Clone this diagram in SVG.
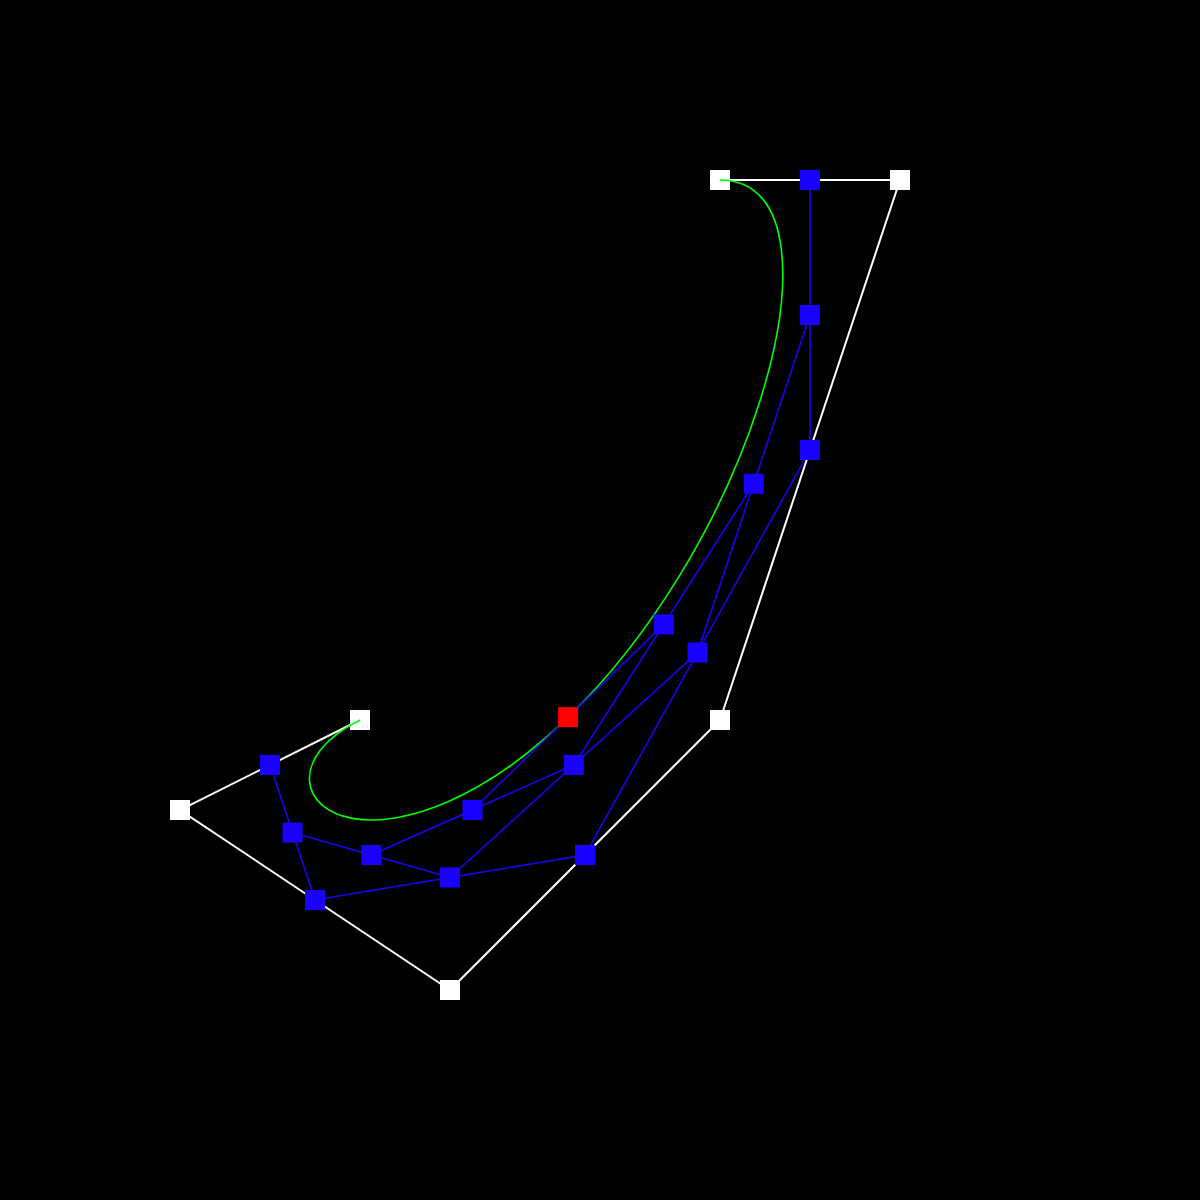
<svg xmlns="http://www.w3.org/2000/svg" width="1200" height="1200" viewBox="0 0 1200 1200">
<style>
.ctl{fill:none;stroke:#ffffff;stroke-width:2}
.lvl{fill:none;stroke:#1a00ff;stroke-width:1.5}
.crv{fill:none;stroke:#00ff00;stroke-width:1.6}
.wp{fill:#ffffff}
.bp{fill:#1a00ff}
.rp{fill:#ff0000}
</style>
<defs>
<rect id="sq" x="-10" y="-10" width="20" height="20"/>
</defs>
<rect x="0" y="0" width="1200" height="1200" fill="#000000"/>
<g id="connectors">
<polyline id="control-polygon" class="ctl" points="360,720 180,810 450,990 720,720 900,180 720,180"/>
</g>
<g id="control-points" class="wp">
<g id="P0"><use href="#sq" x="360" y="720"/></g>
<g id="P1"><use href="#sq" x="180" y="810"/></g>
<g id="P2"><use href="#sq" x="450" y="990"/></g>
<g id="P3"><use href="#sq" x="720" y="720"/></g>
<g id="P4"><use href="#sq" x="900" y="180"/></g>
<g id="P5"><use href="#sq" x="720" y="180"/></g>
</g>
<g id="curve">
<path class="crv" d="M360,720 C322.5,738.75 308.3,761.9 309.45,780.64 C310.59,799.39 327.1,813.74 352.44,818.35 C377.78,822.96 411.98,817.85 449.6,801.07 C487.22,784.29 528.28,755.86 568.13,717.19 C607.97,678.52 646.62,629.61 679.84,575.19 C713.06,520.77 740.89,460.83 759.2,403.33 C777.51,345.83 786.33,290.79 781.32,249.33 C776.31,207.87 757.5,180 720,180"/>
</g>
<g id="construction-lines">
<polyline class="lvl" points="270,765 315,900 585,855 810,450 810,180"/>
<polyline class="lvl" points="292.5,832.5 450,877.5 697.5,652.5 810,315"/>
<polyline class="lvl" points="371.25,855 573.75,765 753.75,483.75"/>
<polyline class="lvl" points="472.5,810 663.75,624.375"/>
</g>
<g id="construction-points" class="bp">
<g id="Q0"><use href="#sq" x="270" y="765"/></g>
<g id="Q1"><use href="#sq" x="315" y="900"/></g>
<g id="Q2"><use href="#sq" x="585" y="855"/></g>
<g id="Q3"><use href="#sq" x="810" y="450"/></g>
<g id="Q4"><use href="#sq" x="810" y="180"/></g>
<g id="R0"><use href="#sq" x="292.5" y="832.5"/></g>
<g id="R1"><use href="#sq" x="450" y="877.5"/></g>
<g id="R2"><use href="#sq" x="697.5" y="652.5"/></g>
<g id="R3"><use href="#sq" x="810" y="315"/></g>
<g id="S0"><use href="#sq" x="371.25" y="855"/></g>
<g id="S1"><use href="#sq" x="573.75" y="765"/></g>
<g id="S2"><use href="#sq" x="753.75" y="483.75"/></g>
<g id="T0"><use href="#sq" x="472.5" y="810"/></g>
<g id="T1"><use href="#sq" x="663.75" y="624.375"/></g>
</g>
<g id="curve-point" class="rp">
<use href="#sq" x="568.125" y="717.1875"/>
</g>
</svg>
